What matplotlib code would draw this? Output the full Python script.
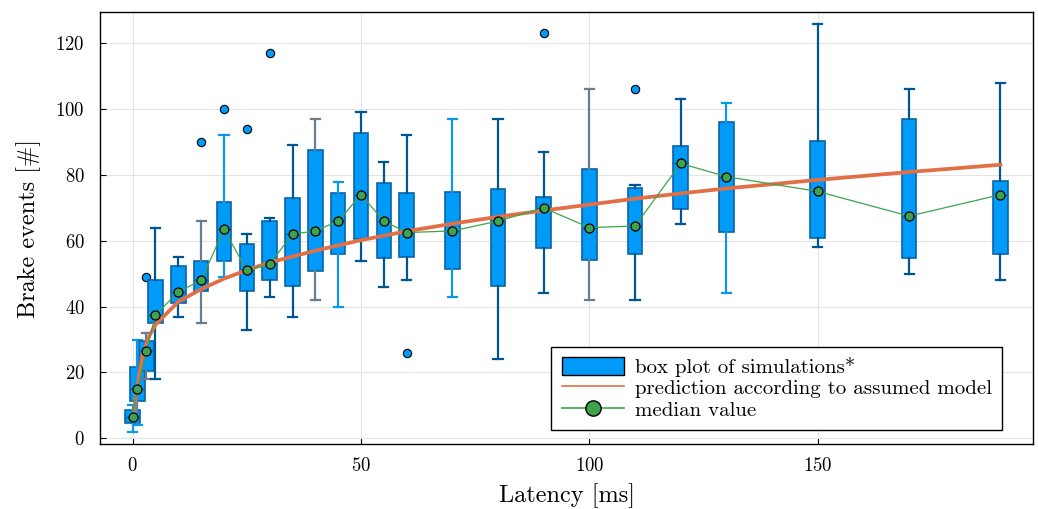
import matplotlib
matplotlib.use('Agg')
from matplotlib import pyplot as plt
from matplotlib.patches import Patch
from matplotlib.lines import Line2D

# latency of each simulated group [ms]
latency = [0, 1, 3, 5, 10, 15, 20, 25, 30, 35, 40, 45, 50, 55, 60, 70, 80, 90, 100, 110, 120, 130, 150, 170, 190]

# box plot statistics
whisker_low = [2, 4, 18, 18, 37, 35, 49, 33, 43, 37, 42, 40, 54, 46, 48, 43, 24, 44, 42, 42, 65, 44, 58, 50, 48]
q1 = [4.6, 11.3, 20.5, 35, 41, 44.7, 53.8, 44.6, 48, 46.3, 50.8, 56.1, 60.5, 54.7, 55, 51.4, 46.3, 57.8, 54.1, 56, 69.6, 62.7, 60.8, 54.8, 56.1]
median = [6.5, 15, 26.5, 37.5, 44.5, 48, 63.5, 51, 53, 62, 63, 66, 74, 66, 62.5, 63, 66, 70, 64, 64.5, 83.5, 79.5, 75, 67.5, 74]
q3 = [8.7, 21.7, 29.6, 48.1, 52.2, 54, 71.9, 59, 66.1, 73, 87.5, 74.4, 92.6, 77.6, 74.4, 74.9, 75.8, 73.3, 81.8, 76, 88.8, 96.1, 90.3, 96.9, 78.2]
whisker_high = [10, 30, 32, 64, 55, 66, 92, 62, 67, 89, 97, 78, 99, 84, 92, 97, 97, 87, 106, 77, 103, 102, 126, 106, 108]
outliers = {3: [49], 15: [90], 20: [100], 25: [94], 30: [117], 60: [26], 90: [123], 110: [106]}

# prediction of the assumed model
pred_latency = [0.3, 0.7, 1.5, 2.3, 3.6, 5, 7.5, 10, 15, 20, 25, 30, 40, 50, 60, 70, 80, 90, 100, 110, 120, 130, 150, 170, 190]
pred_events = [6.5, 13, 20, 26, 31, 34.5, 38, 41.5, 45.3, 48.5, 51.1, 53.4, 57, 60.2, 62.9, 65.2, 67.3, 69.2, 71, 72.8, 74.4, 75.9, 78.5, 80.9, 83.1]

LIGHT = '#0a98ea'
DARK = '#005593'
GRAY = '#6a7c8e'
whisker_colors = [LIGHT, LIGHT, GRAY, DARK, DARK, GRAY, LIGHT, DARK, DARK, DARK, GRAY, LIGHT, DARK,
                  DARK, DARK, LIGHT, DARK, DARK, GRAY, DARK, DARK, LIGHT, DARK, DARK, DARK]


def main():
    plt.rcParams['font.family'] = 'serif'
    plt.rcParams['font.serif'] = ['cmr10', 'DejaVu Serif']
    plt.rcParams['axes.formatter.use_mathtext'] = True
    plt.rcParams['mathtext.fontset'] = 'cm'

    fig = plt.figure(figsize=(10.38, 5.09), dpi=100)
    ax = fig.add_axes([0.0963, 0.1271, 0.8992, 0.8493])

    stats = []
    for i, x in enumerate(latency):
        stats.append({'med': median[i], 'q1': q1[i], 'q3': q3[i],
                      'whislo': whisker_low[i], 'whishi': whisker_high[i],
                      'fliers': outliers.get(x, [])})

    bp = ax.bxp(stats, positions=latency, widths=3.2, capwidths=2.0,
                patch_artist=True, manage_ticks=False,
                boxprops=dict(facecolor='#009af9', edgecolor='#0a64a8', linewidth=1.2),
                medianprops=dict(color='#0a64a8', linewidth=1),
                flierprops=dict(marker='o', markerfacecolor='#009af9', markeredgecolor='black',
                                markeredgewidth=0.8, markersize=6),
                zorder=2)
    for i, c in enumerate(whisker_colors):
        for ln in bp['whiskers'][2 * i:2 * i + 2] + bp['caps'][2 * i:2 * i + 2]:
            ln.set_color(c)
            ln.set_linewidth(1.6)

    ax.plot(pred_latency, pred_events, color='#e26f46', linewidth=2.7, zorder=3)
    ax.plot(latency, median, color='#3da44d', linewidth=0.9, marker='o', markersize=6.5,
            markerfacecolor='#3da44d', markeredgecolor='black', markeredgewidth=0.9, zorder=4)

    ax.set_xlim(-7.16, 197.2)
    ax.set_ylim(-1.82, 129.5)
    ax.set_xticks([0, 50, 100, 150])
    ax.set_yticks([0, 20, 40, 60, 80, 100, 120])
    ax.grid(True, color='#e4e4e4', linewidth=0.8, zorder=0)
    ax.set_axisbelow(True)
    ax.tick_params(direction='in', length=4, width=0.8, labelsize=13.5)
    ax.tick_params(axis='y', pad=11)
    ax.tick_params(axis='x', pad=9)
    for s in ax.spines.values():
        s.set_linewidth(1.0)

    ax.set_xlabel('Latency [ms]', fontsize=17.5, labelpad=6)
    ax.set_ylabel('Brake events [#]', fontsize=17.5, labelpad=10)

    handles = [Patch(facecolor='#009af9', edgecolor='black', linewidth=1),
               Line2D([], [], color='#e26f46', linewidth=1.2),
               Line2D([], [], color='#3da44d', linewidth=1.2, marker='o', markersize=11,
                      markerfacecolor='#3da44d', markeredgecolor='black', markeredgewidth=1)]
    labels = ['box plot of simulations*', 'prediction according to assumed model', 'median value']
    leg = ax.legend(handles, labels, loc='lower right', bbox_to_anchor=(0.9665, 0.033),
                    fontsize=15, fancybox=False, framealpha=1, edgecolor='black',
                    handlelength=3.0, handleheight=0.95, labelspacing=0.05, borderpad=0.5,
                    handletextpad=0.5, borderaxespad=0)
    leg.get_frame().set_linewidth(1.0)

    fig.savefig('out.png', dpi=100)


if __name__ == '__main__':
    main()
